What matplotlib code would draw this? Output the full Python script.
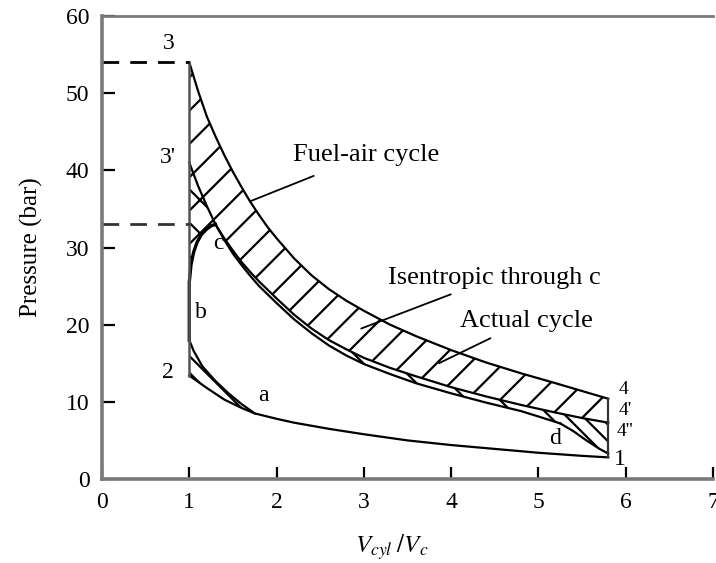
import numpy as np
import matplotlib
matplotlib.use("Agg")
import matplotlib.pyplot as plt

plt.rcParams['font.family'] = ['Liberation Serif', 'DejaVu Serif']
plt.rcParams['mathtext.fontset'] = 'stix'
plt.rcParams['hatch.linewidth'] = 1.6

# Fuel-air cycle expansion 3 -> 4 and isentropic through c (3' -> 4')
x_exp = [1.0, 1.1, 1.2, 1.3, 1.4, 1.5, 1.6, 1.7, 1.8, 1.9, 2.0, 2.2, 2.4, 2.6,
         2.8, 3.0, 3.3, 3.6, 4.0, 4.4, 4.8, 5.2, 5.5, 5.8]
p_fuel_air = [54.0, 50.3, 47.0, 44.4, 42.0, 39.8, 37.8, 35.9, 34.2, 32.6, 31.2, 28.6,
              26.4, 24.6, 23.1, 21.8, 20.0, 18.5, 16.7, 15.1, 13.7, 12.4, 11.4, 10.4]
p_isen_c = [41.0, 38.0, 35.4, 33.0, 31.2, 29.6, 28.1, 26.8, 25.6, 24.5, 23.4, 21.3,
            19.5, 18.0, 16.8, 15.7, 14.4, 13.3, 11.9, 10.7, 9.6, 8.6, 7.9, 7.3]

# Actual cycle expansion c -> d
x_actual = [1.3, 1.4, 1.5, 1.6, 1.7, 1.8, 1.9, 2.0, 2.2, 2.4, 2.6, 2.8, 3.0, 3.3,
            3.6, 4.0, 4.4, 4.8, 5.0, 5.25]
p_actual = [33.0, 31.0, 29.2, 27.7, 26.3, 25.0, 23.9, 22.8, 20.7, 18.9, 17.3, 16.0,
            14.9, 13.6, 12.4, 11.1, 9.9, 8.8, 8.1, 7.2]

# exhaust blowdown d -> 1
x_blow = [5.25, 5.4, 5.55, 5.7, 5.8]
p_blow = [7.2, 6.2, 5.0, 3.9, 3.3]

# Compression 1 -> a -> 2
x_comp = [5.8, 5.5, 5.0, 4.5, 4.0, 3.5, 3.0, 2.6, 2.2, 2.0, 1.75, 1.6, 1.4, 1.2, 1.0]
p_comp = [2.8, 3.0, 3.4, 3.9, 4.4, 5.0, 5.8, 6.5, 7.3, 7.8, 8.5, 9.2, 10.3, 11.8, 13.4]
i_a = x_comp.index(1.75)

# Actual compression a -> b and combustion b -> c
x_comp_act = [1.75, 1.6, 1.45, 1.3, 1.15, 1.05, 1.0]
p_comp_act = [8.5, 9.7, 11.1, 12.7, 14.6, 16.6, 18.0]
x_burn = [1.0, 1.0, 1.02, 1.05, 1.09, 1.14, 1.2, 1.25, 1.3]
p_burn = [18.0, 25.5, 27.8, 29.4, 30.7, 31.7, 32.4, 32.8, 33.0]

p3, p_c = 54.0, 33.0
x_tdc, x_bdc = 1.0, 5.8

fig = plt.figure(figsize=(7.16, 5.63), dpi=100)
ax = fig.add_axes([102 / 716, 1 - 479 / 563, 611 / 716, 463 / 563])

lw = 1.6
# hatched regions
ax.fill_between(x_exp, p_isen_c, p_fuel_air, facecolor='none', edgecolor='black',
                hatch='/', linewidth=0)
isen_on_act = np.interp(x_actual, x_exp, p_isen_c)
ax.fill_between(x_actual, p_actual, isen_on_act, facecolor='none', edgecolor='black',
                hatch='\\', linewidth=0)
# time loss 3' - c
n_c = x_exp.index(1.3) + 1
ax.fill(x_exp[:n_c] + x_burn[::-1][1:], p_isen_c[:n_c] + p_burn[::-1][1:],
        facecolor='none', edgecolor='black', hatch='x', linewidth=0)
# blowdown
xb_top = [5.25, 5.5, 5.8]
pb_top = list(np.interp(xb_top, x_exp, p_isen_c))
ax.fill(xb_top + x_blow[::-1], pb_top + p_blow[::-1], facecolor='none',
        edgecolor='black', hatch='\\\\', linewidth=0)
# compression sliver
ax.fill(x_comp[i_a:] + x_comp_act[::-1], p_comp[i_a:] + p_comp_act[::-1],
        facecolor='none', edgecolor='black', hatch='\\\\', linewidth=0)

# cycle lines
ax.plot(x_exp, p_fuel_air, color='black', lw=lw)
ax.plot(x_exp, p_isen_c, color='black', lw=lw)
ax.plot(x_actual, p_actual, color='black', lw=lw)
ax.plot(x_blow, p_blow, color='black', lw=lw)
ax.plot(x_comp, p_comp, color='black', lw=lw)
ax.plot(x_comp_act, p_comp_act, color='black', lw=lw)
ax.plot(x_burn, p_burn, color='black', lw=2.4)
ax.plot([x_tdc, x_tdc], [p_comp[-1], p3], color='#555555', lw=1.8)
ax.plot([x_bdc, x_bdc], [p_comp[0], p_fuel_air[-1]], color='#333333', lw=1.6)

# dashed pressure markers
ax.plot([0, x_tdc], [p3, p3], color='black', lw=2, ls=(0, (6, 4)))
ax.plot([0, x_tdc], [p_c, p_c], color='#333333', lw=2, ls=(0, (6, 4)))

# state labels
fs = 17
ax.text(0.77, 56.5, '3', fontsize=fs, ha='center', va='center')
ax.text(0.75, 41.7, "3'", fontsize=fs, ha='center', va='center')
ax.text(1.33, 30.5, 'c', fontsize=fs, ha='center', va='center')
ax.text(1.13, 21.6, 'b', fontsize=fs, ha='center', va='center')
ax.text(0.75, 13.8, '2', fontsize=fs, ha='center', va='center')
ax.text(1.85, 10.8, 'a', fontsize=fs, ha='center', va='center')
ax.text(5.19, 5.3, 'd', fontsize=fs, ha='center', va='center')
ax.text(5.98, 11.6, '4', fontsize=14, ha='center', va='center')
ax.text(5.99, 8.9, "4'", fontsize=14, ha='center', va='center')
ax.text(5.99, 6.1, "4''", fontsize=14, ha='center', va='center')
ax.text(5.93, 2.5, '1', fontsize=fs, ha='center', va='center')

# annotations
ax.annotate('Fuel-air cycle', xy=(1.70, 36.0), xytext=(2.19, 42.0), fontsize=19,
            ha='left', va='center',
            arrowprops=dict(arrowstyle='-', color='black', lw=1.3, shrinkA=14, shrinkB=0))
ax.annotate('Isentropic through c', xy=(2.97, 19.5), xytext=(3.28, 26.1), fontsize=19,
            ha='left', va='center',
            arrowprops=dict(arrowstyle='-', color='black', lw=1.3, shrinkA=6, shrinkB=0))
ax.annotate('Actual cycle', xy=(3.86, 15.0), xytext=(4.10, 20.5), fontsize=19,
            ha='left', va='center',
            arrowprops=dict(arrowstyle='-', color='black', lw=1.3, shrinkA=6, shrinkB=0))

ax.set_xlim(0, 7)
ax.set_ylim(0, 60)
ax.set_xticks(range(0, 8))
ax.set_yticks(range(0, 61, 10))
ax.tick_params(direction='in', length=9, width=1.6, labelsize=17, pad=9, color='black')
for side in ['left', 'bottom', 'top']:
    ax.spines[side].set_color('#7a7a7a')
    ax.spines[side].set_linewidth(2.6)
ax.spines['top'].set_linewidth(2.0)
ax.spines['right'].set_visible(False)

ax.set_ylabel('Pressure (bar)', fontsize=18)
ax.yaxis.set_label_coords(-0.097, 0.5)
ax.set_xlabel(r'$V_{cyl}\;/V_c$', fontsize=18)
ax.xaxis.set_label_coords(0.475, -0.115)

fig.savefig('out.png', dpi=100)
